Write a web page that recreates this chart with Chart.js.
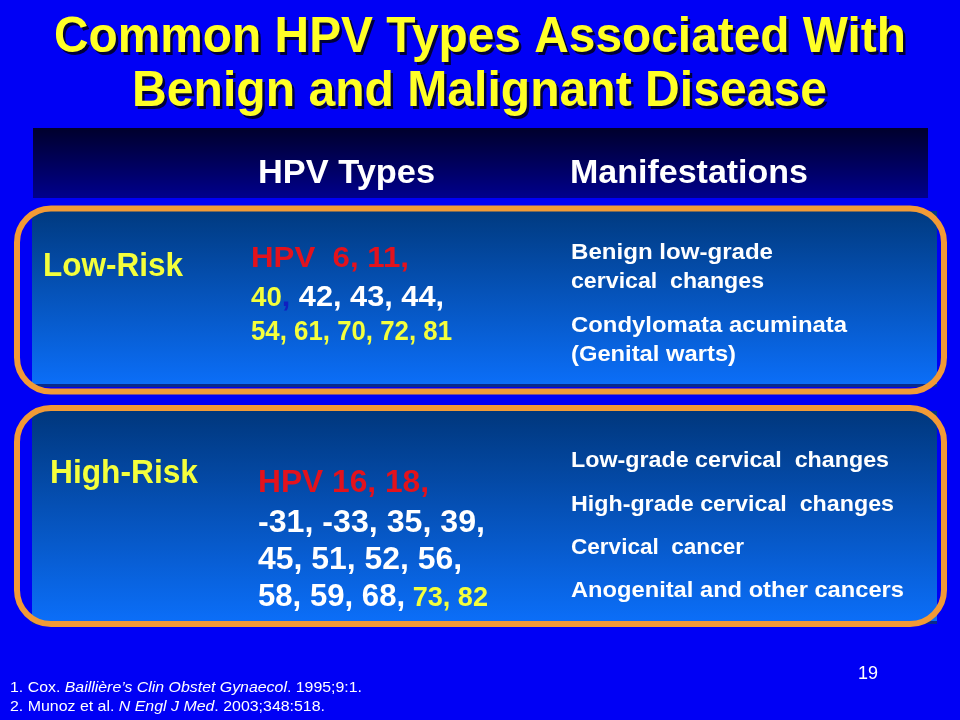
<!DOCTYPE html>
<html lang="en">
<head>
<meta charset="UTF-8">
<title>Common HPV Types Associated With Benign and Malignant Disease</title>
<script src="https://cdn.jsdelivr.net/npm/chart.js"></script>
<style>
  html, body { margin: 0; padding: 0; background: #0000f5; }
  #slide { display: block; }
</style>
</head>
<body>
<canvas id="slide" width="960" height="720"></canvas>
<script>
// slide content
const titleLines = ['Common HPV Types Associated With', 'Benign and Malignant Disease'];
const columnHeaders = ['HPV Types', 'Manifestations'];
const riskGroups = ['Low-Risk', 'High-Risk'];

// HPV types, one row = list of pieces (pieces get their own colour below)
const lowRiskTypes = [['HPV  6, 11,'], ['40', ',', ' 42, 43, 44,'], ['54, 61, 70, 72, 81']];
const highRiskTypes = [['HPV 16, 18,'], ['-31, -33, 35, 39,'], ['45, 51, 52, 56,'], ['58, 59, 68,', ' 73, 82']];

const lowRiskManifestations = ['Benign low-grade', 'cervical  changes', 'Condylomata acuminata', '(Genital warts)'];
const highRiskManifestations = ['Low-grade cervical  changes', 'High-grade cervical  changes', 'Cervical  cancer', 'Anogenital and other cancers'];

const slideNumber = '19';
const references = [
    [['1. Cox. ', false], ['Baillière’s Clin Obstet Gynaecol', true], ['. 1995;9:1.', false]],
    [['2. Munoz et al. ', false], ['N Engl J Med', true], ['. 2003;348:518.', false]]
];

// colours
const RED = '#e3121c', YEL = '#f4ff3c', WHITE = '#ffffff', BLUE = '#1020c0';
const lowTypeColors = [[RED], [YEL, BLUE, WHITE], [YEL]];
const highTypeColors = [[RED], [WHITE], [WHITE], [WHITE, YEL]];
const lowTypeSizes = [[30], [27, 30, 30], [27]];
const highTypeSizes = [[32], [31], [31], [31, 27]];

const FAM = '"Liberation Sans", Arial, sans-serif';

// draw a row of pieces starting at x, squeezed/stretched to the given width
function fitRow(ctx, pieces, x, y, width) {
    let total = 0;
    pieces.forEach(p => { ctx.font = p.font; p.w = ctx.measureText(p.t).width; total += p.w; });
    const sx = width / total;
    ctx.save();
    ctx.translate(x, y);
    ctx.scale(sx, 1);
    ctx.textBaseline = 'alphabetic';
    ctx.textAlign = 'left';
    let cx = 0;
    pieces.forEach(p => {
        ctx.font = p.font;
        if (p.shadow) {
            ctx.fillStyle = p.shadow;
            ctx.fillText(p.t, cx + 2.5 / sx, 2.5);
        }
        ctx.fillStyle = p.color;
        ctx.fillText(p.t, cx, 0);
        cx += p.w;
    });
    ctx.restore();
}

function panel(ctx, inner, border, top, bottom) {
    const g = ctx.createLinearGradient(0, inner[1], 0, inner[3]);
    g.addColorStop(0, top);
    g.addColorStop(1, bottom);
    ctx.fillStyle = g;
    ctx.fillRect(inner[0], inner[1], inner[2] - inner[0], inner[3] - inner[1]);
    ctx.fillStyle = '#0a2a8a';
    ctx.fillRect(inner[0], inner[3], inner[2] - inner[0], 3);
    ctx.beginPath();
    ctx.roundRect(border[0], border[1], border[2] - border[0], border[3] - border[1], 34);
    ctx.lineWidth = 6;
    ctx.strokeStyle = '#f29a36';
    ctx.stroke();
}

const slidePlugin = {
    id: 'slide',
    beforeDraw(chart) {
        const ctx = chart.ctx;
        const sx = chart.scales.x, sy = chart.scales.y;
        const X = v => sx.getPixelForValue(v);
        const Y = v => sy.getPixelForValue(v);

        ctx.save();
        ctx.fillStyle = '#0000f5';
        ctx.fillRect(0, 0, chart.width, chart.height);

        // title
        const titleW = [852, 695];
        const titleX = [54, 132];
        const titleY = [52, 106];
        titleLines.forEach((t, i) => {
            fitRow(ctx, [{ t, font: 'bold 50px ' + FAM, color: '#ffff26', shadow: '#00003a' }],
                X(titleX[i]), Y(titleY[i]), titleW[i]);
        });

        // header band
        const hg = ctx.createLinearGradient(0, Y(128), 0, Y(198));
        hg.addColorStop(0, '#00002c');
        hg.addColorStop(1, '#00008c');
        ctx.fillStyle = hg;
        ctx.fillRect(X(33), Y(128), X(928) - X(33), Y(198) - Y(128));
        fitRow(ctx, [{ t: columnHeaders[0], font: 'bold 34px ' + FAM, color: WHITE }], X(258), Y(183), 177);
        fitRow(ctx, [{ t: columnHeaders[1], font: 'bold 34px ' + FAM, color: WHITE }], X(570), Y(183), 238);

        // panels
        panel(ctx, [X(32), Y(211), X(937), Y(384)], [X(17), Y(208.5), X(944), Y(391.5)], '#003a80', '#0b6ef8');
        panel(ctx, [X(32), Y(411), X(937), Y(621)], [X(17), Y(408), X(944), Y(624)], '#00377d', '#0b6ef8');

        // group labels
        fitRow(ctx, [{ t: riskGroups[0], font: 'bold 34px ' + FAM, color: YEL }], X(43), Y(276), 140);
        fitRow(ctx, [{ t: riskGroups[1], font: 'bold 34px ' + FAM, color: YEL }], X(50), Y(483), 148);

        // HPV type rows
        const lowY = [267, 306, 340], lowW = [158, 193, 201];
        lowRiskTypes.forEach((row, i) => {
            fitRow(ctx, row.map((t, j) => ({ t, font: 'bold ' + lowTypeSizes[i][j] + 'px ' + FAM, color: lowTypeColors[i][j] })),
                X(251), Y(lowY[i]), lowW[i]);
        });
        const highY = [492, 532, 569, 606], highW = [171, 227, 204, 230];
        highRiskTypes.forEach((row, i) => {
            fitRow(ctx, row.map((t, j) => ({ t, font: 'bold ' + highTypeSizes[i][j] + 'px ' + FAM, color: highTypeColors[i][j] })),
                X(258), Y(highY[i]), highW[i]);
        });

        // manifestations
        const lowMY = [259, 288, 332, 361], lowMW = [202, 193, 276, 165];
        lowRiskManifestations.forEach((t, i) => {
            fitRow(ctx, [{ t, font: 'bold 22px ' + FAM, color: WHITE }], X(571), Y(lowMY[i]), lowMW[i]);
        });
        const highMY = [467, 511, 554, 597], highMW = [318, 323, 173, 333];
        highRiskManifestations.forEach((t, i) => {
            fitRow(ctx, [{ t, font: 'bold 22px ' + FAM, color: WHITE }], X(571), Y(highMY[i]), highMW[i]);
        });

        // slide number + references
        fitRow(ctx, [{ t: slideNumber, font: '18px ' + FAM, color: WHITE }], X(858), Y(679), 20);
        const refY = [692, 711], refW = [352, 315];
        references.forEach((row, i) => {
            fitRow(ctx, row.map(([t, it]) => ({ t, font: (it ? 'italic ' : '') + '15px ' + FAM, color: WHITE })),
                X(10), Y(refY[i]), refW[i]);
        });
        ctx.restore();
    }
};

new Chart(document.getElementById('slide'), {
    type: 'scatter',
    data: { datasets: [] },
    options: {
        responsive: false,
        animation: false,
        events: [],
        layout: { padding: 0 },
        plugins: { legend: { display: false }, tooltip: { enabled: false }, title: { display: false } },
        scales: {
            x: { type: 'linear', min: 0, max: 960, display: false },
            y: { type: 'linear', min: 0, max: 720, reverse: true, display: false }
        }
    },
    plugins: [slidePlugin]
});
</script>
</body>
</html>
